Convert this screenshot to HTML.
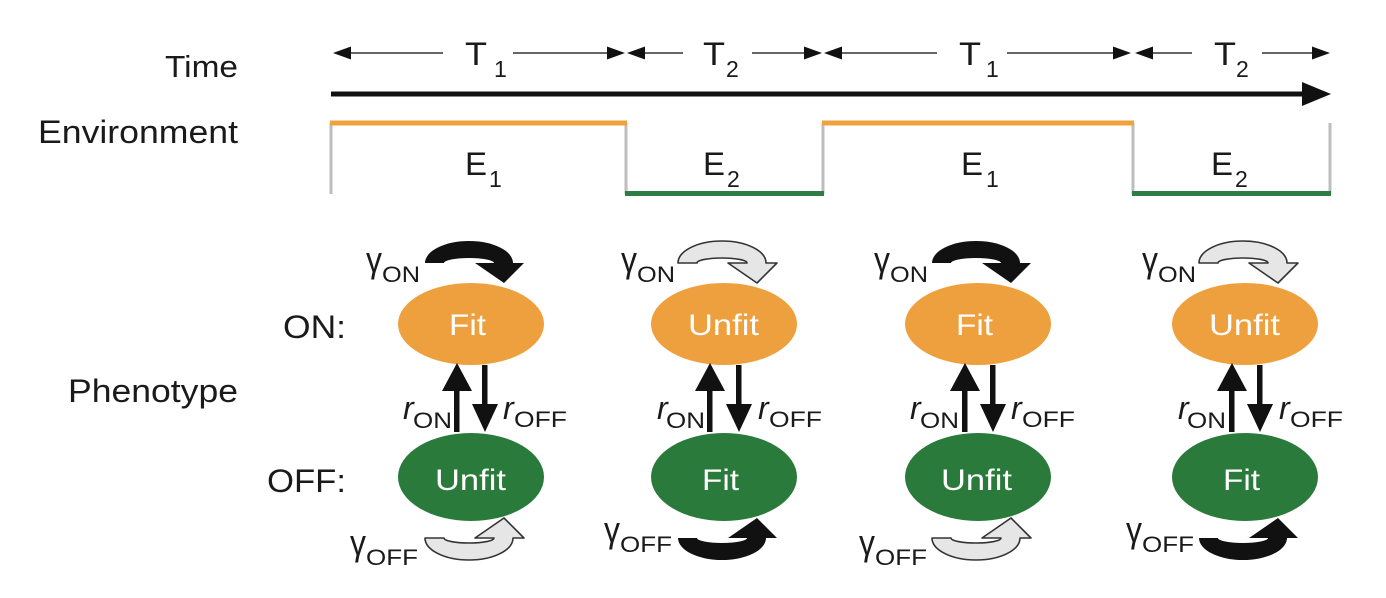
<!DOCTYPE html>
<html>
<head>
<meta charset="utf-8">
<style>
  html,body{margin:0;padding:0;background:#fff;}
  svg{display:block;}
</style>
</head>
<body>
<svg width="1386" height="598" viewBox="0 0 1386 598" xmlns="http://www.w3.org/2000/svg" font-family="'Liberation Sans', Arial, sans-serif" fill="#1a1a1a">
  <defs>
    <path id="arc" d="M425,263 A44,22 0 0 1 513,263 L524,263 L504,283 L475,263 L494,263 A25,5 0 0 0 444,263 Z"/>
  </defs>
  <rect width="1386" height="598" fill="#fff"/>

  <!-- Left labels -->
  <text x="165" y="77" font-size="31" textLength="73" lengthAdjust="spacingAndGlyphs">Time</text>
  <text x="38" y="143" font-size="32" textLength="200" lengthAdjust="spacingAndGlyphs">Environment</text>
  <text x="68" y="402" font-size="32" textLength="170" lengthAdjust="spacingAndGlyphs">Phenotype</text>
  <text x="283" y="338" font-size="32" textLength="63" lengthAdjust="spacingAndGlyphs">ON:</text>
  <text x="267" y="492" font-size="32" textLength="79" lengthAdjust="spacingAndGlyphs">OFF:</text>

  <!-- Time interval arrows -->
  <g stroke="#333" stroke-width="1.4">
    <line x1="348" y1="53" x2="443" y2="53"/>
    <line x1="513" y1="53" x2="610" y2="53"/>
    <line x1="642" y1="53" x2="683" y2="53"/>
    <line x1="752" y1="53" x2="807" y2="53"/>
    <line x1="839" y1="53" x2="937" y2="53"/>
    <line x1="1007" y1="53" x2="1116" y2="53"/>
    <line x1="1150" y1="53" x2="1192" y2="53"/>
    <line x1="1262" y1="53" x2="1315" y2="53"/>
  </g>
  <g fill="#111">
    <polygon points="333,53 351,46.5 351,59.5"/>
    <polygon points="625,53 607,46.5 607,59.5"/>
    <polygon points="627,53 645,46.5 645,59.5"/>
    <polygon points="822,53 804,46.5 804,59.5"/>
    <polygon points="824,53 842,46.5 842,59.5"/>
    <polygon points="1131,53 1113,46.5 1113,59.5"/>
    <polygon points="1135,53 1153,46.5 1153,59.5"/>
    <polygon points="1330,53 1312,46.5 1312,59.5"/>
  </g>
  <g>
    <text x="465" y="65" font-size="32" textLength="22" lengthAdjust="spacingAndGlyphs">T</text>
    <text x="494" y="77" font-size="23">1</text>
    <text x="703" y="65" font-size="32" textLength="22" lengthAdjust="spacingAndGlyphs">T</text>
    <text x="726" y="77" font-size="23">2</text>
    <text x="959" y="65" font-size="32" textLength="22" lengthAdjust="spacingAndGlyphs">T</text>
    <text x="986" y="77" font-size="23">1</text>
    <text x="1214" y="65" font-size="32" textLength="22" lengthAdjust="spacingAndGlyphs">T</text>
    <text x="1236" y="77" font-size="23">2</text>
  </g>

  <!-- Main time arrow -->
  <rect x="331" y="91.5" width="975" height="5" fill="#111"/>
  <polygon points="1302,82 1331,94 1302,106" fill="#111"/>

  <!-- Environment -->
  <g stroke="#bdbdbd" stroke-width="3">
    <line x1="331" y1="123" x2="331" y2="194"/>
    <line x1="626" y1="123" x2="626" y2="194"/>
    <line x1="823" y1="123" x2="823" y2="194"/>
    <line x1="1133" y1="123" x2="1133" y2="194"/>
    <line x1="1330" y1="123" x2="1330" y2="194"/>
  </g>
  <g stroke="#F0A23C" stroke-width="5">
    <line x1="330" y1="123" x2="627" y2="123"/>
    <line x1="822" y1="123" x2="1134" y2="123"/>
  </g>
  <g stroke="#2F7C44" stroke-width="5">
    <line x1="625" y1="193.5" x2="824" y2="193.5"/>
    <line x1="1132" y1="193.5" x2="1331" y2="193.5"/>
  </g>
  <g>
    <text x="465" y="175" font-size="32" textLength="22" lengthAdjust="spacingAndGlyphs">E</text>
    <text x="489" y="187" font-size="23">1</text>
    <text x="703" y="175" font-size="32" textLength="22" lengthAdjust="spacingAndGlyphs">E</text>
    <text x="727" y="187" font-size="23">2</text>
    <text x="961" y="175" font-size="32" textLength="22" lengthAdjust="spacingAndGlyphs">E</text>
    <text x="986" y="187" font-size="23">1</text>
    <text x="1211" y="175" font-size="32" textLength="22" lengthAdjust="spacingAndGlyphs">E</text>
    <text x="1235" y="187" font-size="23">2</text>
  </g>

  <!-- Column 1 -->
  <g transform="translate(0,0)">
    <ellipse cx="471" cy="324" rx="73" ry="41" fill="#EEA03E"/>
    <ellipse cx="471" cy="477" rx="73" ry="44" fill="#2A7A3B"/>
    <text x="449" y="335" fill="#fff" font-size="30" textLength="37" lengthAdjust="spacingAndGlyphs">Fit</text>
    <text x="435" y="490" fill="#fff" font-size="30" textLength="71" lengthAdjust="spacingAndGlyphs">Unfit</text>
    <rect x="454" y="388" width="5.5" height="44" fill="#111"/>
    <polygon points="442,391 457,363 472,391" fill="#111"/>
    <rect x="482" y="365" width="5.5" height="42" fill="#111"/>
    <polygon points="472,404 485,432 498,404" fill="#111"/>
    <text x="403" y="419" font-style="italic" font-size="32">r</text>
    <text x="413" y="428" font-size="22" textLength="39" lengthAdjust="spacingAndGlyphs">ON</text>
    <text x="503" y="419" font-style="italic" font-size="32">r</text>
    <text x="514" y="427" font-size="22" textLength="53" lengthAdjust="spacingAndGlyphs">OFF</text>
    <text x="366" y="272" font-size="36" textLength="16" lengthAdjust="spacingAndGlyphs">γ</text>
    <text x="382" y="282" font-size="22" textLength="38" lengthAdjust="spacingAndGlyphs">ON</text>
    <text x="350" y="555" font-size="36" textLength="16" lengthAdjust="spacingAndGlyphs">γ</text>
    <text x="366" y="565" font-size="22" textLength="52" lengthAdjust="spacingAndGlyphs">OFF</text>
    <use href="#arc" fill="#111"/>
    <use href="#arc" transform="translate(0,801) scale(1,-1)" fill="#e6e6e6" stroke="#333" stroke-width="1.6" stroke-linejoin="round"/>
  </g>

  <!-- Column 2 -->
  <g transform="translate(253,0)">
    <ellipse cx="471" cy="324" rx="73" ry="41" fill="#EEA03E"/>
    <ellipse cx="471" cy="477" rx="73" ry="44" fill="#2A7A3B"/>
    <text x="435" y="335" fill="#fff" font-size="30" textLength="71" lengthAdjust="spacingAndGlyphs">Unfit</text>
    <text x="449" y="490" fill="#fff" font-size="30" textLength="37" lengthAdjust="spacingAndGlyphs">Fit</text>
    <rect x="454" y="388" width="5.5" height="44" fill="#111"/>
    <polygon points="442,391 457,363 472,391" fill="#111"/>
    <rect x="483" y="365" width="5.5" height="42" fill="#111"/>
    <polygon points="473,404 486,432 499,404" fill="#111"/>
    <text x="404" y="419" font-style="italic" font-size="32">r</text>
    <text x="413" y="428" font-size="22" textLength="39" lengthAdjust="spacingAndGlyphs">ON</text>
    <text x="505" y="419" font-style="italic" font-size="32">r</text>
    <text x="516" y="427" font-size="22" textLength="53" lengthAdjust="spacingAndGlyphs">OFF</text>
    <text x="368" y="272" font-size="36" textLength="16" lengthAdjust="spacingAndGlyphs">γ</text>
    <text x="384" y="282" font-size="22" textLength="38" lengthAdjust="spacingAndGlyphs">ON</text>
    <text x="351" y="542" font-size="36" textLength="16" lengthAdjust="spacingAndGlyphs">γ</text>
    <text x="367" y="552" font-size="22" textLength="52" lengthAdjust="spacingAndGlyphs">OFF</text>
    <use href="#arc" fill="#e6e6e6" stroke="#333" stroke-width="1.6" stroke-linejoin="round"/>
    <use href="#arc" transform="translate(0,801) scale(1,-1)" fill="#111"/>
  </g>

  <!-- Column 3 -->
  <g transform="translate(507,0)">
    <ellipse cx="471" cy="324" rx="73" ry="41" fill="#EEA03E"/>
    <ellipse cx="471" cy="477" rx="73" ry="44" fill="#2A7A3B"/>
    <text x="449" y="335" fill="#fff" font-size="30" textLength="37" lengthAdjust="spacingAndGlyphs">Fit</text>
    <text x="434" y="490" fill="#fff" font-size="30" textLength="71" lengthAdjust="spacingAndGlyphs">Unfit</text>
    <rect x="455" y="388" width="5.5" height="44" fill="#111"/>
    <polygon points="443,391 458,363 473,391" fill="#111"/>
    <rect x="483" y="365" width="5.5" height="42" fill="#111"/>
    <polygon points="473,404 486,432 499,404" fill="#111"/>
    <text x="403" y="419" font-style="italic" font-size="32">r</text>
    <text x="413" y="428" font-size="22" textLength="39" lengthAdjust="spacingAndGlyphs">ON</text>
    <text x="504" y="419" font-style="italic" font-size="32">r</text>
    <text x="515" y="427" font-size="22" textLength="53" lengthAdjust="spacingAndGlyphs">OFF</text>
    <text x="367" y="272" font-size="36" textLength="16" lengthAdjust="spacingAndGlyphs">γ</text>
    <text x="383" y="282" font-size="22" textLength="38" lengthAdjust="spacingAndGlyphs">ON</text>
    <text x="352" y="555" font-size="36" textLength="16" lengthAdjust="spacingAndGlyphs">γ</text>
    <text x="368" y="565" font-size="22" textLength="52" lengthAdjust="spacingAndGlyphs">OFF</text>
    <use href="#arc" fill="#111"/>
    <use href="#arc" transform="translate(0,801) scale(1,-1)" fill="#e6e6e6" stroke="#333" stroke-width="1.6" stroke-linejoin="round"/>
  </g>

  <!-- Column 4 -->
  <g transform="translate(774,0)">
    <ellipse cx="471" cy="324" rx="73" ry="41" fill="#EEA03E"/>
    <ellipse cx="471" cy="477" rx="73" ry="44" fill="#2A7A3B"/>
    <text x="435" y="335" fill="#fff" font-size="30" textLength="71" lengthAdjust="spacingAndGlyphs">Unfit</text>
    <text x="449" y="490" fill="#fff" font-size="30" textLength="37" lengthAdjust="spacingAndGlyphs">Fit</text>
    <rect x="455" y="388" width="5.5" height="44" fill="#111"/>
    <polygon points="443,391 458,363 473,391" fill="#111"/>
    <rect x="483" y="365" width="5.5" height="42" fill="#111"/>
    <polygon points="473,404 486,432 499,404" fill="#111"/>
    <text x="404" y="419" font-style="italic" font-size="32">r</text>
    <text x="413" y="428" font-size="22" textLength="39" lengthAdjust="spacingAndGlyphs">ON</text>
    <text x="505" y="419" font-style="italic" font-size="32">r</text>
    <text x="516" y="427" font-size="22" textLength="53" lengthAdjust="spacingAndGlyphs">OFF</text>
    <text x="368" y="272" font-size="36" textLength="16" lengthAdjust="spacingAndGlyphs">γ</text>
    <text x="384" y="282" font-size="22" textLength="38" lengthAdjust="spacingAndGlyphs">ON</text>
    <text x="352" y="542" font-size="36" textLength="16" lengthAdjust="spacingAndGlyphs">γ</text>
    <text x="368" y="552" font-size="22" textLength="52" lengthAdjust="spacingAndGlyphs">OFF</text>
    <use href="#arc" fill="#e6e6e6" stroke="#333" stroke-width="1.6" stroke-linejoin="round"/>
    <use href="#arc" transform="translate(0,801) scale(1,-1)" fill="#111"/>
  </g>
</svg>
</body>
</html>
